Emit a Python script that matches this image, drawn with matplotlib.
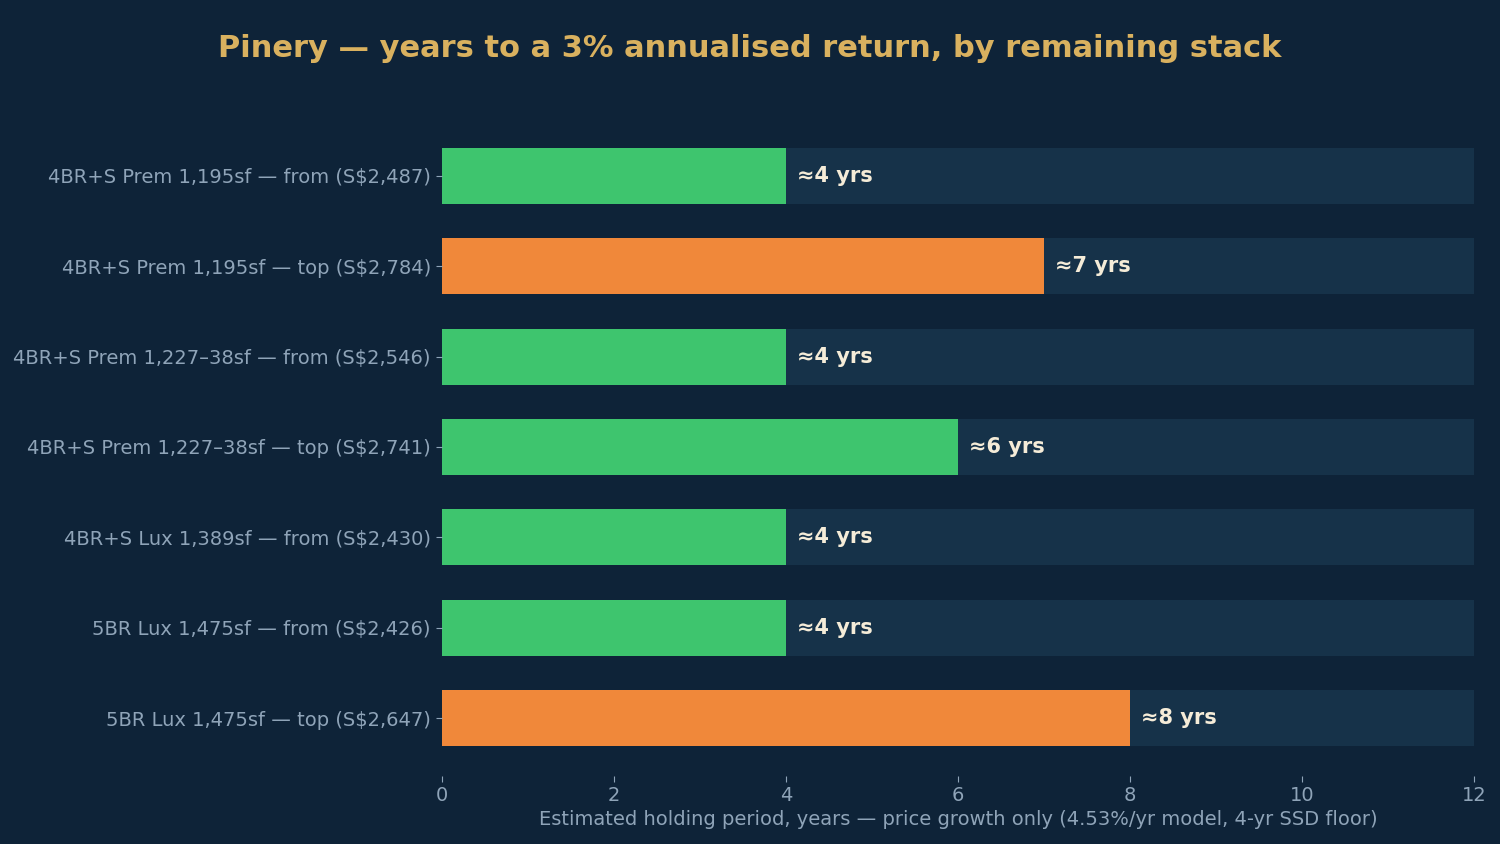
#!/usr/bin/env python3

import numpy as np
from matplotlib import pyplot as plt

# * Data

LABELS = [
    "4BR+S Prem 1,195sf — from (S$2,487)",
    "4BR+S Prem 1,195sf — top (S$2,784)",
    "4BR+S Prem 1,227–38sf — from (S$2,546)",
    "4BR+S Prem 1,227–38sf — top (S$2,741)",
    "4BR+S Lux 1,389sf — from (S$2,430)",
    "5BR Lux 1,475sf — from (S$2,426)",
    "5BR Lux 1,475sf — top (S$2,647)",
]
YEARS = [4, 7, 4, 6, 4, 4, 8]
X_MAX = 12

# Colours
BG = "#0e2338"
TRACK = "#163249"
GREEN = "#3ec56e"
ORANGE = "#f0883a"
GOLD = "#d9b15f"
GREY = "#8fa4b8"
VALUE = "#f5ecd8"

# * Plot

fig = plt.figure(figsize=(15, 8.44), dpi=100, facecolor=BG)
ax = fig.add_axes([0.2947, 0.0806, 0.688, 0.7796])
ax.set_facecolor(BG)

y = np.arange(len(LABELS))
colors = [ORANGE if v >= 7 else GREEN for v in YEARS]
ax.barh(y, [X_MAX] * len(y), height=0.62, color=TRACK)
ax.barh(y, YEARS, height=0.62, color=colors)

for yi, v in zip(y, YEARS):
    ax.text(v + 0.13, yi, "≈{} yrs".format(v), va="center", ha="left",
            color=VALUE, fontsize=15, fontweight="bold")

ax.set_yticks(y)
ax.set_yticklabels(LABELS)
ax.invert_yaxis()
ax.set_xlim(0, X_MAX)
ax.set_xticks(range(0, X_MAX + 1, 2))

for s in ax.spines.values():
    s.set_visible(False)
ax.tick_params(colors=GREY, labelsize=14, length=4)
ax.tick_params(axis="y", pad=4)

ax.set_xlabel("Estimated holding period, years — price growth only (4.53%/yr model, 4-yr SSD floor)",
              color=GREY, fontsize=14, labelpad=3)

fig.text(0.5, 0.943, "Pinery — years to a 3% annualised return, by remaining stack",
         ha="center", va="center", color=GOLD, fontsize=22, fontweight="bold")

fig.savefig("out.png", facecolor=BG)
